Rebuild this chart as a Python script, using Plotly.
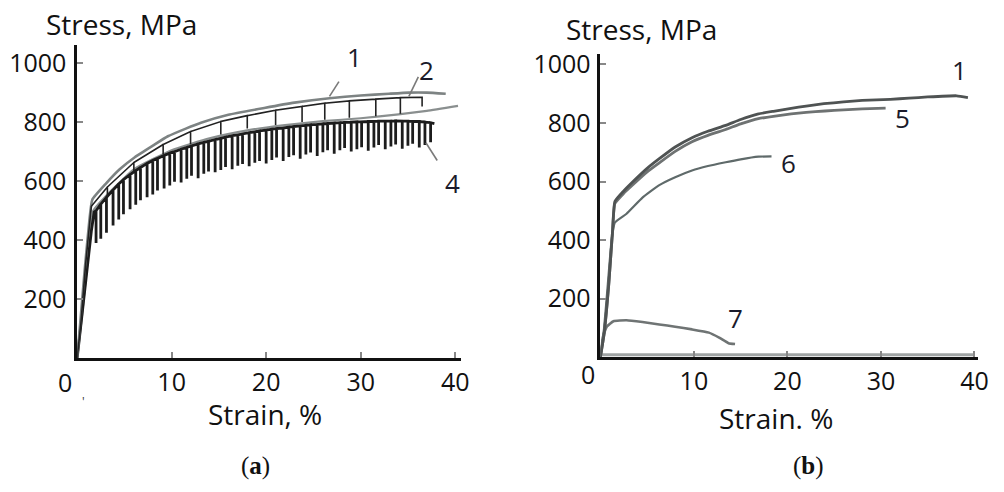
import plotly.graph_objects as go

# ---------------- Panel (a) data ----------------
c1_x = [0, 0.3, 0.8, 1.3, 1.6, 3, 4.5, 6.1, 8, 9.6, 11.5, 13.1, 16, 19.8, 23, 26.7, 30, 33, 35.1, 37, 39.0]
c1_y = [0, 110, 300, 470, 537, 590, 640, 681, 720, 752, 778, 798, 825, 848, 866, 881, 890, 896, 900, 900, 896]

c2_x = [0, 0.4, 0.9, 1.5, 3.2, 3.2, 3.2, 6.0, 6.0, 6.0, 9.1, 9.1, 9.1, 12.0, 12.0, 12.0,
        15.2, 15.2, 15.2, 18.0, 18.0, 18.0, 21.0, 21.0, 21.0, 23.8, 23.8, 23.8,
        26.2, 26.2, 26.2, 28.8, 28.8, 28.8, 31.6, 31.6, 31.6, 34.2, 34.2, 34.2, 36.5, 36.5]
c2_y = [0, 120, 320, 515, 580, 545, 580, 663, 630, 663, 724, 690, 724, 768, 725, 768,
        802, 758, 802, 822, 778, 822, 840, 790, 840, 853, 800, 853,
        864, 808, 864, 872, 815, 872, 878, 820, 878, 883, 828, 883, 884, 853]

c3_x = [0, 0.5, 1.1, 1.7, 3, 6, 10, 14, 18, 22, 26, 30, 34, 37, 40.3]
c3_y = [0, 140, 330, 500, 548, 640, 705, 745, 772, 790, 803, 813, 826, 838, 855]

c4_start_x = [0, 0.5, 1.0, 1.5, 1.8]
c4_start_y = [0, 150, 300, 430, 495]
spike_x = [2.0, 2.5, 3.1, 3.8, 4.4, 4.9, 5.6, 6.2, 6.7, 7.4, 8.0, 8.5, 9.2, 9.8, 10.3,
           11.0, 11.6, 12.1, 12.8, 13.4, 13.9, 14.6, 15.2, 15.7, 16.4, 17.0, 17.5, 18.2,
           18.8, 19.3, 20.0, 20.6, 21.1, 21.8, 22.4, 22.9, 23.6, 24.2, 24.7, 25.4, 26.0,
           26.5, 27.2, 27.8, 28.3, 29.0, 29.6, 30.1, 30.8, 31.4, 31.9, 32.6, 33.2, 33.7,
           34.4, 35.0, 35.5, 36.2, 36.8, 37.4]
spike_top = [500, 522, 545, 570, 590, 605, 622, 636, 646, 660, 670, 677, 687, 695, 700,
             708, 714, 719, 726, 731, 735, 741, 745, 749, 754, 757, 760, 764,
             767, 770, 773, 776, 778, 780, 783, 785, 787, 789, 791, 792, 794,
             795, 797, 798, 799, 800, 801, 801, 802, 802, 803, 803, 803, 804,
             803, 803, 802, 802, 800, 798]
spike_bot = [390, 405, 425, 450, 470, 488, 505, 520, 535, 545, 555, 568, 575, 585, 598,
             595, 608, 618, 610, 625, 633, 630, 638, 648, 640, 652, 658, 650,
             662, 668, 660, 672, 680, 668, 682, 688, 676, 690, 697, 685, 698,
             705, 693, 705, 712, 700, 708, 715, 703, 714, 722, 708, 717, 724,
             710, 720, 727, 714, 722, 732]
c4_end_x = [37.8]
c4_end_y = [795]

# label texts / positions (data units) and leader lines for panel (a)
a_labels = ["1", "2", "3", "4"]
a_label_x = [29.3, 37.0, 41.9, 39.7]
a_label_y = [1020, 977, 870, 593]
a_lead_x0 = [27.7, 36.1, 36.9]
a_lead_y0 = [937, 953, 730]
a_lead_x1 = [26.7, 35.1, 38.1]
a_lead_y1 = [887, 887, 670]

# ---------------- Panel (b) data ----------------
r1_x = [0, 0.4, 0.9, 1.3, 1.55, 2.5, 3.5, 5, 6.3, 8, 9.8, 11.5, 13.4, 15, 16.9, 18.5, 20.4,
        22, 23.9, 26, 28, 31, 33, 35, 38.1, 39.3]
r1_y = [0, 80, 250, 430, 532, 568, 600, 645, 678, 718, 750, 772, 792, 812, 831, 840, 850,
        858, 866, 872, 877, 881, 885, 889, 893, 887]
r5_x = [0, 0.4, 0.9, 1.3, 1.55, 2.5, 3.5, 5, 6.3, 8, 9.8, 11.5, 13.4, 15, 16.9, 18.5, 20.4,
        22, 24, 26, 28, 30.5]
r5_y = [0, 80, 250, 430, 525, 560, 590, 633, 664, 703, 736, 758, 778, 797, 815, 823, 831,
        836, 841, 845, 848, 851]
r6_x = [0, 0.4, 0.8, 1.2, 1.55, 2.8, 4.5, 6.3, 8, 9.8, 11.5, 13.4, 15, 16.9, 18.3]
r6_y = [0, 100, 250, 400, 460, 490, 545, 588, 615, 638, 653, 666, 676, 685, 686]
r7_x = [0, 0.15, 0.3, 0.7, 1.4, 2.8, 4.5, 6.3, 8, 9.8, 11.6, 12.7, 13.7, 14.4]
r7_y = [0, 40, 73, 105, 123, 126, 120, 112, 104, 95, 84, 67, 48, 45]
base_x = [0, 40]
base_y = [8, 8]

b_labels = ["1", "5", "6", "7"]
b_label_x = [38.4, 32.3, 20.1, 14.4]
b_label_y = [981, 817, 665, 134]

x_ticks = [10, 20, 30, 40]
y_ticks = [200, 400, 600, 800, 1000]

# ---------------- Build figure ----------------
fig = go.Figure()
smooth = dict(shape="spline", smoothing=0.4)

# panel (a)
fig.add_trace(go.Scatter(x=c3_x, y=c3_y, mode="lines",
                         line=dict(color="#8a8f8f", width=2.2, **smooth),
                         xaxis="x", yaxis="y", showlegend=False))
c4_x, c4_y = list(c4_start_x), list(c4_start_y)
for sx, st, sb in zip(spike_x, spike_top, spike_bot):
    c4_x += [sx, sx, sx]
    c4_y += [st, sb, st]
c4_x += c4_end_x
c4_y += c4_end_y
fig.add_trace(go.Scatter(x=c4_x, y=c4_y, mode="lines", line=dict(color="#1c1c1c", width=2.8),
                         xaxis="x", yaxis="y", showlegend=False))
fig.add_trace(go.Scatter(x=c1_x, y=c1_y, mode="lines",
                         line=dict(color="#7d8383", width=2.6, **smooth),
                         xaxis="x", yaxis="y", showlegend=False))
fig.add_trace(go.Scatter(x=c2_x, y=c2_y, mode="lines", line=dict(color="#222222", width=1.6),
                         xaxis="x", yaxis="y", showlegend=False))

# panel (b)
fig.add_trace(go.Scatter(x=base_x, y=base_y, mode="lines", line=dict(color="#a0a4a4", width=3),
                         xaxis="x2", yaxis="y2", showlegend=False))
for xs, ys, col, w in [(r7_x, r7_y, "#6f7474", 2.6), (r6_x, r6_y, "#5f6a6a", 2.2),
                       (r5_x, r5_y, "#6e7272", 2.8), (r1_x, r1_y, "#4f5353", 2.8)]:
    fig.add_trace(go.Scatter(x=xs, y=ys, mode="lines", line=dict(color=col, width=w, **smooth),
                             xaxis="x2", yaxis="y2", showlegend=False))

txt_font = dict(family="Open Sans", size=26, color="#1a1a2a")
tick_font = dict(family="Open Sans", size=25, color="#111111")
center = dict(xanchor="center", yanchor="middle", showarrow=False)

for t, lx, ly in zip(a_labels, a_label_x, a_label_y):
    fig.add_annotation(x=lx, y=ly, xref="x", yref="y", text=t, font=txt_font, **center)
for x0, y0, x1, y1 in zip(a_lead_x0, a_lead_y0, a_lead_x1, a_lead_y1):
    fig.add_shape(type="line", x0=x0, y0=y0, x1=x1, y1=y1, xref="x", yref="y",
                  line=dict(color="#7a7a7a", width=1.6))
for t, lx, ly in zip(b_labels, b_label_x, b_label_y):
    fig.add_annotation(x=lx, y=ly, xref="x2", yref="y2", text=t, font=txt_font, **center)

# axis titles and panel captions
title_font = dict(family="Open Sans", size=28, color="#111111")
fig.add_annotation(x=0.1225, y=0.967, xref="paper", yref="paper", text="Stress, MPa",
                   font=title_font, **center)
fig.add_annotation(x=0.6464, y=0.957, xref="paper", yref="paper", text="Stress, MPa",
                   font=title_font, **center)
fig.add_annotation(x=0.267, y=0.1606, xref="paper", yref="paper", text="Strain, %",
                   font=title_font, **center)
fig.add_annotation(x=0.781, y=0.1524, xref="paper", yref="paper", text="Strain. %",
                   font=title_font, **center)
fig.add_annotation(x=0.0657, y=0.2276, xref="paper", yref="paper", text="0",
                   font=tick_font, **center)
fig.add_annotation(x=0.5926, y=0.2439, xref="paper", yref="paper", text="0",
                   font=tick_font, **center)
fig.add_annotation(x=0.0837, y=0.187, xref="paper", yref="paper", text="'",
                   font=dict(family="Open Sans", size=12, color="#333333"), **center)
cap_font = dict(family="Liberation Serif", size=25, color="#111111")
fig.add_annotation(x=0.257, y=0.0528, xref="paper", yref="paper", text="(<b>a</b>)",
                   font=cap_font, **center)
fig.add_annotation(x=0.8147, y=0.0528, xref="paper", yref="paper", text="(<b>b</b>)",
                   font=cap_font, **center)

axis_common = dict(showgrid=False, zeroline=False, showline=True, linecolor="#111111",
                   linewidth=2.5, ticks="inside", ticklen=6, tickwidth=1.5, tickcolor="#888888",
                   tickfont=tick_font, fixedrange=True)

fig.update_layout(
    width=1004, height=492,
    margin=dict(l=0, r=0, t=0, b=0),
    paper_bgcolor="white", plot_bgcolor="white",
    xaxis=dict(domain=[0.0777, 0.4641], range=[0, 40.6], anchor="y", tickvals=x_ticks,
               ticklabelstandoff=0, **axis_common),
    yaxis=dict(domain=[0.2764, 0.9228], range=[0, 1060], anchor="x", tickvals=y_ticks,
               ticklabelstandoff=3, **axis_common),
    xaxis2=dict(domain=[0.6046, 0.9851], range=[0, 40.4], anchor="y2", tickvals=x_ticks,
                ticklabelstandoff=0, **axis_common),
    yaxis2=dict(domain=[0.2785, 0.9045], range=[0, 1035], anchor="x2", tickvals=y_ticks,
                ticklabelstandoff=2, **axis_common),
)

fig.write_html("out.html")
